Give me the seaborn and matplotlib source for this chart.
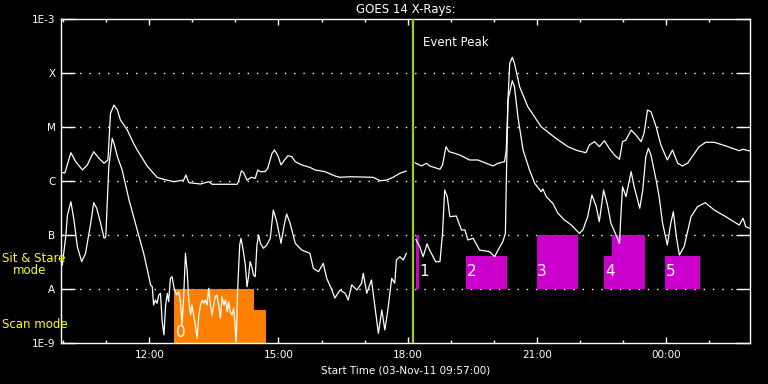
import numpy as np
import pandas as pd
import matplotlib
matplotlib.use("Agg")
import matplotlib.pyplot as plt
import seaborn as sns

# ---- data (hour of day, >24 = next day; flux in W/m^2) ----
long_hours = [9.98, 10.04, 10.18, 10.29, 10.45, 10.56, 10.71, 10.83, 10.95, 11.04,
              11.10, 11.18, 11.26, 11.33, 11.49, 11.63, 11.72, 11.95, 12.18, 12.34,
              12.57, 12.80, 12.85, 12.92, 13.19, 13.38, 13.46, 14.04, 14.07, 14.14,
              14.19, 14.27, 14.37, 14.46, 14.52, 14.58, 14.69, 14.75, 14.85, 14.91,
              14.99, 15.06, 15.14, 15.22, 15.31, 15.39, 15.54, 15.73, 15.85, 16.08,
              16.31, 16.43, 16.66, 17.20, 17.36, 17.51, 17.66, 17.82, 17.97,
              18.17, 18.32, 18.44, 18.51, 18.75, 18.81, 18.89, 18.96, 19.09, 19.21,
              19.44, 19.63, 19.98, 20.10, 20.25, 20.29, 20.33, 20.37, 20.43, 20.48,
              20.60, 20.79, 21.10, 21.41, 21.72, 21.95, 22.14, 22.22, 22.34, 22.45,
              22.57, 22.68, 22.80, 22.92, 22.99, 23.07, 23.19, 23.30, 23.42, 23.49,
              23.57, 23.65, 23.77, 23.88, 24.03, 24.15, 24.27, 24.38, 24.50, 24.77,
              24.92, 25.12, 25.39, 25.70, 25.79, 25.94]
long_flux = [1.43e-6, 1.41e-6, 3.34e-6, 2.28e-6, 1.60e-6, 1.98e-6, 3.49e-6, 2.63e-6, 2.13e-6, 2.45e-6,
             1.79e-5, 2.55e-5, 2.06e-5, 1.35e-5, 8.80e-6, 5.06e-6, 3.75e-6, 1.90e-6, 1.17e-6, 1.07e-6,
             9.70e-7, 1.04e-6, 1.29e-6, 9.31e-7, 8.80e-7, 9.70e-7, 8.69e-7, 8.69e-7, 9.70e-7, 1.55e-6,
             1.43e-6, 1.04e-6, 1.17e-6, 1.12e-6, 1.60e-6, 1.49e-6, 1.49e-6, 1.72e-6, 3.26e-6, 3.75e-6,
             2.90e-6, 1.98e-6, 2.45e-6, 2.94e-6, 2.82e-6, 2.28e-6, 1.98e-6, 1.79e-6, 1.60e-6, 1.49e-6,
             1.24e-6, 1.17e-6, 1.20e-6, 1.17e-6, 1.01e-6, 1.04e-6, 1.17e-6, 1.39e-6, 1.53e-6,
             2.18e-6, 1.90e-6, 2.13e-6, 1.90e-6, 1.65e-6, 1.98e-6, 4.32e-6, 3.49e-6, 3.26e-6, 3.03e-6,
             2.45e-6, 2.45e-6, 1.90e-6, 2.13e-6, 2.28e-6, 3.75e-6, 3.16e-5, 1.51e-4, 1.95e-4, 1.51e-4,
             5.57e-5, 2.38e-5, 1.01e-5, 6.45e-6, 4.32e-6, 3.64e-6, 3.34e-6, 4.64e-6, 5.35e-6, 4.32e-6,
             5.57e-6, 4.04e-6, 3.03e-6, 2.52e-6, 5.35e-6, 5.74e-6, 8.80e-6, 7.11e-6, 5.35e-6, 7.64e-6,
             2.06e-5, 1.92e-5, 1.01e-5, 4.64e-6, 2.45e-6, 3.75e-6, 2.13e-6, 1.90e-6, 2.13e-6, 4.32e-6,
             5.21e-6, 5.21e-6, 4.45e-6, 3.64e-6, 3.86e-6, 3.60e-6]

short_hours = [9.98, 10.06, 10.10, 10.18, 10.25, 10.33, 10.43, 10.52, 10.64, 10.71,
               10.78, 10.87, 10.95, 10.99, 11.06, 11.14, 11.18, 11.26, 11.37, 11.53,
               11.72, 11.87, 11.99,
               12.03, 12.07, 12.10, 12.14, 12.18, 12.22, 12.26, 12.30, 12.34, 12.38,
               12.42, 12.45, 12.49, 12.53, 12.57, 12.63, 12.68, 12.72, 12.76, 12.80,
               12.84, 12.88, 12.92, 12.96, 12.99, 13.03, 13.07, 13.11, 13.15, 13.19,
               13.23, 13.26, 13.30, 13.34, 13.38, 13.42, 13.46, 13.49, 13.53, 13.57,
               13.61, 13.65, 13.69, 13.73, 13.77, 13.81, 13.84, 13.88, 13.92, 13.96,
               14.00, 14.02, 14.05, 14.10, 14.13, 14.18, 14.23, 14.27, 14.31, 14.34,
               14.38, 14.42, 14.46, 14.50, 14.54, 14.58, 14.65, 14.73,
               14.81, 14.88, 14.96,
               15.06, 15.14, 15.19, 15.27, 15.39, 15.54, 15.73, 15.81, 15.93, 16.04,
               16.12, 16.24, 16.31, 16.43, 16.55, 16.62, 16.70, 16.82, 16.93, 16.97,
               17.05, 17.16, 17.24, 17.32, 17.40, 17.47, 17.55, 17.63, 17.70, 17.74,
               17.82, 17.90, 17.97,
               18.19, 18.28, 18.36, 18.45, 18.51, 18.65, 18.75, 18.81, 18.86, 18.92,
               18.98, 19.13, 19.25, 19.33, 19.40, 19.52, 19.67, 19.90, 20.02, 20.10,
               20.21, 20.27, 20.29, 20.33, 20.43, 20.48, 20.56, 20.68, 20.83, 20.95,
               21.10, 21.14, 21.22, 21.37, 21.49, 21.64, 21.80, 21.99, 22.07, 22.18,
               22.28, 22.38, 22.45, 22.55, 22.64, 22.72, 22.84, 22.92, 22.95, 22.99,
               23.07, 23.19, 23.26, 23.39, 23.46, 23.53, 23.59, 23.65, 23.77, 23.84,
               23.92, 24.03, 24.11, 24.17, 24.24, 24.31, 24.42, 24.58, 24.73, 24.91,
               25.12, 25.39, 25.70, 25.79, 25.85, 25.94]
short_flux = [2.78e-8, 9.31e-8, 2.34e-7, 4.14e-7, 1.90e-7, 6.07e-8, 3.21e-8, 4.58e-8, 1.65e-7, 3.97e-7,
              3.12e-7, 1.65e-7, 8.69e-8, 9.31e-8, 1.84e-6, 6.18e-6, 4.99e-6, 2.82e-6, 1.60e-6, 4.45e-7,
              1.24e-7, 4.58e-8, 1.69e-8,
              1.19e-8, 1.10e-8, 5.06e-9, 6.25e-9, 5.43e-9, 7.74e-9, 8.32e-9, 2.48e-9, 1.41e-9, 5.06e-9,
              8.32e-9, 5.82e-9, 1.58e-8, 1.69e-8, 1.10e-8, 7.74e-9, 8.91e-9, 6.25e-9, 2.15e-9, 7.74e-9,
              4.58e-8, 2.09e-8, 5.82e-9, 3.30e-9, 5.06e-9, 3.30e-9, 2.15e-9, 1.22e-9, 3.30e-9, 5.06e-9,
              6.25e-9, 5.43e-9, 6.25e-9, 5.06e-9, 1.03e-8, 5.06e-9, 3.30e-9, 4.70e-9, 7.19e-9, 7.74e-9,
              5.06e-9, 2.86e-9, 7.19e-9, 5.06e-9, 6.25e-9, 3.80e-9, 5.82e-9, 3.80e-9, 3.30e-9, 4.40e-9,
              1.62e-9, 1.06e-9, 8.91e-9, 6.53e-8, 8.69e-8, 5.27e-8, 2.78e-8, 1.10e-8, 1.82e-8, 3.21e-8,
              2.59e-8, 1.82e-8, 1.69e-8, 6.53e-8, 1.00e-7, 7.01e-8, 5.67e-8, 6.53e-8,
              8.69e-8, 2.90e-7, 1.76e-7,
              7.01e-8, 1.65e-7, 2.45e-7, 1.65e-7, 7.01e-8, 5.27e-8, 4.58e-8, 2.42e-8, 2.09e-8, 2.99e-8,
              1.58e-8, 9.58e-9, 6.81e-9, 9.58e-9, 8.32e-9, 6.25e-9, 1.19e-8, 9.58e-9, 1.28e-8, 1.95e-8,
              8.32e-9, 1.47e-8, 4.70e-9, 1.51e-9, 4.08e-9, 1.74e-9, 4.70e-9, 1.58e-8, 1.28e-8, 3.44e-8,
              3.97e-8, 3.44e-8, 4.58e-8,
              8.32e-8, 6.07e-8, 3.97e-8, 6.81e-8, 5.27e-8, 3.21e-8, 3.21e-8, 1.07e-7, 6.81e-7, 5.12e-7,
              2.18e-7, 2.25e-7, 1.24e-7, 1.24e-7, 8.07e-8, 8.69e-8, 5.27e-8, 4.91e-8, 3.97e-8, 5.27e-8,
              7.52e-8, 1.07e-7, 9.06e-7, 3.16e-5, 7.19e-5, 5.57e-5, 1.55e-5, 3.75e-6, 1.60e-6, 9.06e-7,
              6.34e-7, 7.11e-7, 5.12e-7, 3.86e-7, 2.52e-7, 1.90e-7, 1.53e-7, 1.07e-7, 1.24e-7, 2.18e-7,
              5.51e-7, 3.34e-7, 1.76e-7, 6.81e-7, 3.59e-7, 1.65e-7, 1.00e-7, 7.01e-8, 2.18e-7, 7.83e-7,
              5.12e-7, 1.49e-6, 7.83e-7, 3.12e-7, 6.81e-7, 2.82e-6, 4.04e-6, 3.03e-6, 1.04e-6, 5.12e-7,
              1.65e-7, 6.53e-8, 1.65e-7, 2.70e-7, 9.31e-8, 4.26e-8, 6.07e-8, 2.18e-7, 3.34e-7, 3.97e-7,
              2.90e-7, 2.18e-7, 1.53e-7, 2.04e-7, 1.43e-7, 1.33e-7]

data_gap_hour = 18.10
event_peak_hour = 18.13

scan_start = [12.58, 14.44]
scan_end = [14.44, 14.72]
scan_top = [1.0e-8, 4.1e-9]
scan_labels = ["0"]
scan_label_hours = [12.61]

stare_start = [18.205, 19.35, 21.00, 22.57, 22.75, 23.98]
stare_end = [18.26, 20.30, 21.95, 22.75, 23.51, 24.79]
stare_top = [1.0e-7, 4.1e-8, 1.0e-7, 4.1e-8, 1.0e-7, 4.1e-8]
stare_labels = ["1", "2", "3", "4", "5"]
stare_label_hours = [18.27, 19.37, 21.01, 22.59, 24.00]

ytick_vals = [1e-9, 1e-8, 1e-7, 1e-6, 1e-5, 1e-4, 1e-3]
ytick_labels = ["1E-9", "A", "B", "C", "M", "X", "1E-3"]
xtick_major = [12, 15, 18, 21, 24]
xtick_labels = ["12:00", "15:00", "18:00", "21:00", "00:00"]

# ---- build frames ----
df_long = pd.DataFrame({"hour": long_hours, "flux": long_flux})
df_long["seg"] = (df_long["hour"] > data_gap_hour).astype(int)
df_short = pd.DataFrame({"hour": short_hours, "flux": short_flux})
df_short["seg"] = (df_short["hour"] > data_gap_hour).astype(int)

sns.set_style("dark")
plt.rcParams["font.family"] = ["DejaVu Sans"]

fig = plt.figure(figsize=(7.68, 3.84), dpi=100, facecolor="black")
ax = fig.add_axes([61 / 768, 1 - 343 / 384, 689 / 768, 324 / 384])
ax.set_facecolor("black")

# observation boxes
ax.bar(scan_start, np.array(scan_top) - 1e-9, width=np.array(scan_end) - np.array(scan_start),
       bottom=1e-9, align="edge", color="#ff8000", linewidth=0, zorder=1)
ax.bar(stare_start, np.array(stare_top) - 1e-8, width=np.array(stare_end) - np.array(stare_start),
       bottom=1e-8, align="edge", color="#cc00cc", linewidth=0, zorder=1)

sns.lineplot(data=df_long, x="hour", y="flux", units="seg", estimator=None,
             color="white", linewidth=0.9, ax=ax, zorder=3)
sns.lineplot(data=df_short, x="hour", y="flux", units="seg", estimator=None,
             color="white", linewidth=0.9, ax=ax, zorder=3)

ax.axvline(event_peak_hour, color="#9acd1e", linewidth=1.6, zorder=4)
ax.text(event_peak_hour + 0.22, 3.6e-4, "Event Peak", color="white", fontsize=8.5,
        va="center", ha="left")

for lab, h in zip(scan_labels, scan_label_hours):
    ax.text(h, 1.55e-9, lab, color="white", fontsize=11, va="center", ha="left", zorder=5)
for lab, h in zip(stare_labels, stare_label_hours):
    ax.text(h, 2.07e-8, lab, color="white", fontsize=11, va="center", ha="left", zorder=5)

ax.set_yscale("log")
ax.set_ylim(1e-9, 1e-3)
ax.set_xlim(9.95, 25.95)
ax.set_yticks(ytick_vals)
ax.set_yticklabels(ytick_labels)
ax.yaxis.set_minor_locator(matplotlib.ticker.NullLocator())
ax.set_xticks(xtick_major)
ax.set_xticklabels(xtick_labels)
ax.set_xticks(np.arange(10, 26, 1), minor=True)

ax.tick_params(axis="y", which="major", direction="in", length=10, width=1.0,
               color="white", labelcolor="white", labelsize=7.5, left=True, right=True, pad=4)
ax.tick_params(axis="x", which="major", direction="in", length=4.5, width=1.0,
               color="white", labelcolor="white", labelsize=7.5, bottom=True, top=True, pad=5)
ax.tick_params(axis="x", which="minor", direction="in", length=2.5, width=1.0,
               color="white", bottom=True, top=True)

ax.grid(False)
for v in ytick_vals[1:-1]:
    ax.axhline(v, color="white", linewidth=1.0, linestyle=(0, (1, 5.7)), zorder=0.5)

for s in ax.spines.values():
    s.set_color("white")
    s.set_linewidth(1.0)
    s.set_visible(True)

ax.set_xlabel("Start Time (03-Nov-11 09:57:00)", color="white", fontsize=7.5, labelpad=4)
ax.set_ylabel("")
ax.set_title("GOES 14 X-Rays:", color="white", fontsize=8.5, pad=4)

fig.text(2 / 768, 1 - 259 / 384, "Sit & Stare", color="yellow", fontsize=8.5, va="center", ha="left")
fig.text(13 / 768, 1 - 271 / 384, "mode", color="yellow", fontsize=8.5, va="center", ha="left")
fig.text(2 / 768, 1 - 324 / 384, "Scan mode", color="yellow", fontsize=8.5, va="center", ha="left")

fig.savefig("out.png", dpi=100, facecolor="black")
